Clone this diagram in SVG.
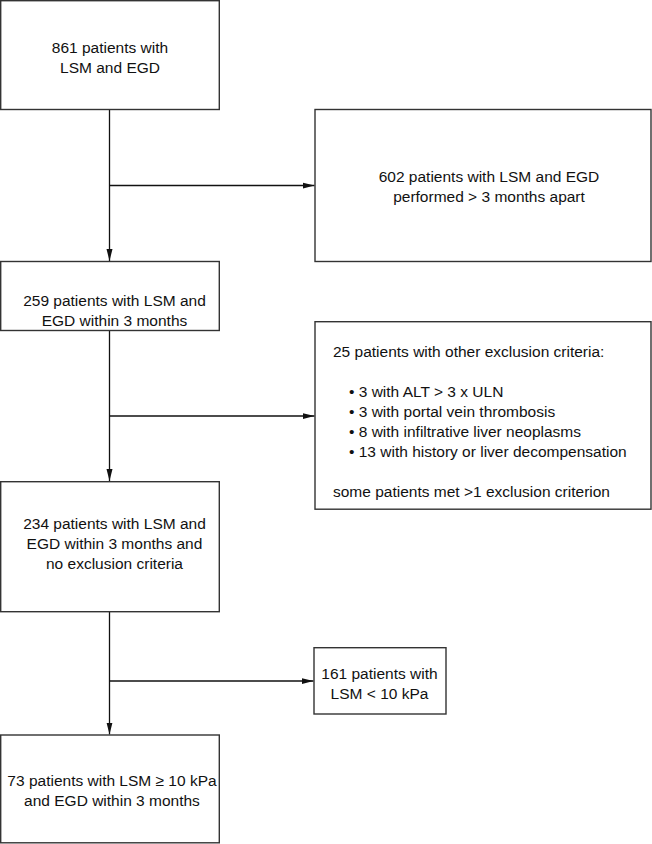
<svg xmlns="http://www.w3.org/2000/svg" width="652" height="844" viewBox="0 0 652 844">
<defs>
<style>
.box{fill:#fff;stroke:#333;stroke-width:1.4}
.t{font-family:"Liberation Sans",Arial,sans-serif;font-size:15.5px;fill:#111}
.c{text-anchor:middle}
.ln{stroke:#111;stroke-width:1.3;fill:none}
</style>
<marker id="ah" markerWidth="12" markerHeight="8" refX="12" refY="4" orient="auto" markerUnits="userSpaceOnUse">
<path d="M0,1 L12,4 L0,7 Z" fill="#111"/>
</marker>
</defs>
<rect width="652" height="844" fill="#fff"/>
<g id="connectors">
<path class="ln" d="M109.5,109.5 V261" marker-end="url(#ah)"/>
<path class="ln" d="M109.5,185.5 H314.5" marker-end="url(#ah)"/>
<path class="ln" d="M109.5,330.5 V481" marker-end="url(#ah)"/>
<path class="ln" d="M109.5,416 H314.5" marker-end="url(#ah)"/>
<path class="ln" d="M109.5,611.5 V734.5" marker-end="url(#ah)"/>
<path class="ln" d="M109.5,681 H313.5" marker-end="url(#ah)"/>
</g>
<g id="n861">
<rect class="box" x="0.7" y="0.7" width="218.6" height="108.8"/>
<text class="t c" x="110" y="53">861 patients with</text>
<text class="t c" x="110" y="73">LSM and EGD</text>
</g>
<g id="n602">
<rect class="box" x="315" y="109.5" width="336" height="152"/>
<text class="t c" x="489" y="182">602 patients with LSM and EGD</text>
<text class="t c" x="489" y="202">performed &gt; 3 months apart</text>
</g>
<g id="n259">
<rect class="box" x="0.7" y="261.5" width="218.6" height="69"/>
<text class="t c" x="114.5" y="305.5">259 patients with LSM and</text>
<text class="t c" x="114.5" y="325.5">EGD within 3 months</text>
</g>
<g id="n25">
<rect class="box" x="315" y="321.7" width="336" height="187.5"/>
<text class="t" x="333" y="357">25 patients with other exclusion criteria:</text>
<text class="t" x="349" y="397">• 3 with ALT &gt; 3 x ULN</text>
<text class="t" x="349" y="417">• 3 with portal vein thrombosis</text>
<text class="t" x="349" y="437">• 8 with infiltrative liver neoplasms</text>
<text class="t" x="349" y="457">• 13 with history or liver decompensation</text>
<text class="t" x="333" y="497">some patients met &gt;1 exclusion criterion</text>
</g>
<g id="n234">
<rect class="box" x="0.7" y="481.7" width="218.6" height="130"/>
<text class="t c" x="114.5" y="528.5">234 patients with LSM and</text>
<text class="t c" x="114.5" y="548.5">EGD within 3 months and</text>
<text class="t c" x="114.5" y="568.5">no exclusion criteria</text>
</g>
<g id="n161">
<rect class="box" x="314" y="647.7" width="132" height="66.3"/>
<text class="t c" x="379.5" y="678.5">161 patients with</text>
<text class="t c" x="379.5" y="698.5">LSM &lt; 10 kPa</text>
</g>
<g id="n73">
<rect class="box" x="0.7" y="735" width="218.6" height="107.8"/>
<text class="t c" x="112" y="786">73 patients with LSM ≥ 10 kPa</text>
<text class="t c" x="112" y="806">and EGD within 3 months</text>
</g>
</svg>
